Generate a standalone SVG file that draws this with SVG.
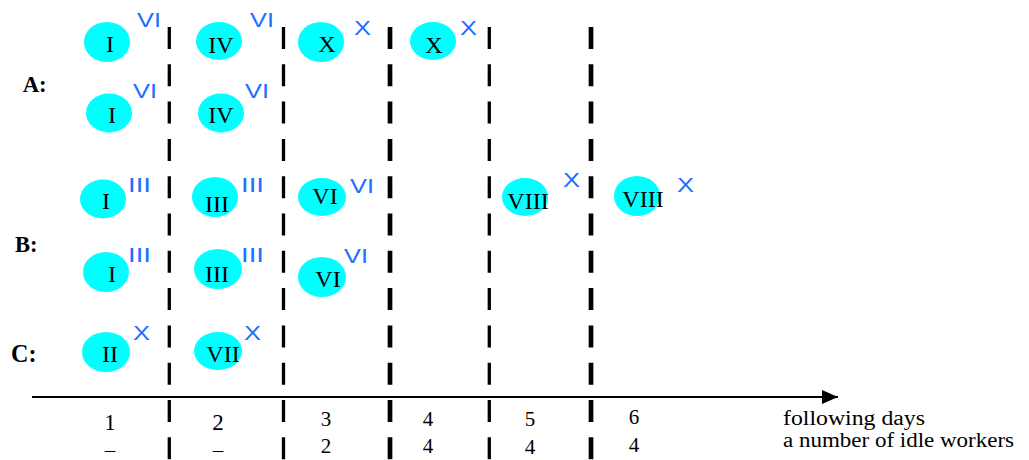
<svg xmlns="http://www.w3.org/2000/svg" width="1029" height="460" viewBox="0 0 1029 460">
<defs>
<style>
.el{fill:#00ffff}
.n{font-family:"Liberation Serif","Times New Roman",serif;font-size:24px;fill:#000;text-anchor:middle}
.b{font-family:"Liberation Sans",Arial,sans-serif;font-size:21px;fill:#1f6fff}
.lab{font-family:"Liberation Serif","Times New Roman",serif;font-size:24px;font-weight:bold;fill:#000}
.d{font-family:"Liberation Serif","Times New Roman",serif;font-size:21px;fill:#000;text-anchor:middle}
.t{font-family:"Liberation Serif","Times New Roman",serif;font-size:20px;fill:#000}
.sep{stroke:#000;stroke-dasharray:22 15.3;fill:none}
</style>
<marker id="arr" markerWidth="16" markerHeight="14" refX="16" refY="7" orient="auto" markerUnits="userSpaceOnUse">
<path d="M0,0 L16,7 L0,14 Z" fill="#000"/>
</marker>
</defs>
<rect width="1029" height="460" fill="#fff"/>

<g id="separators">
<line class="sep" x1="169.3" y1="27" x2="169.3" y2="460" stroke-width="3.3"/>
<line class="sep" x1="283.5" y1="27" x2="283.5" y2="460" stroke-width="3.3"/>
<line class="sep" x1="390" y1="27" x2="390" y2="460" stroke-width="4.7"/>
<line class="sep" x1="489.3" y1="27" x2="489.3" y2="460" stroke-width="3.3"/>
<line class="sep" x1="591" y1="27" x2="591" y2="460" stroke-width="4.7"/>
</g>

<g id="connectors">
<line x1="32" y1="397" x2="838" y2="397" stroke="#000" stroke-width="2" marker-end="url(#arr)"/>
</g>

<g id="row-labels">
<text class="lab" x="22.7" y="92" textLength="24" lengthAdjust="spacingAndGlyphs">A:</text>
<text class="lab" x="15" y="251.7" textLength="22.5" lengthAdjust="spacingAndGlyphs">B:</text>
<text class="lab" x="11" y="362" textLength="25.5" lengthAdjust="spacingAndGlyphs" style="font-size:25px">C:</text>
</g>

<g id="A1-1"><ellipse class="el" cx="107" cy="42" rx="23" ry="20"/><text class="n" x="110" y="52">I</text><text class="b" x="137" y="27" textLength="24" lengthAdjust="spacingAndGlyphs">VI</text></g>
<g id="A1-2"><ellipse class="el" cx="219" cy="41" rx="23" ry="19"/><text class="n" x="221" y="53">IV</text><text class="b" x="250" y="27" textLength="24" lengthAdjust="spacingAndGlyphs">VI</text></g>
<g id="A1-3"><ellipse class="el" cx="321" cy="42" rx="23" ry="20"/><text class="n" x="327" y="52">X</text><text class="b" x="354" y="35" textLength="17" lengthAdjust="spacingAndGlyphs">X</text></g>
<g id="A1-4"><ellipse class="el" cx="433" cy="41" rx="23" ry="19"/><text class="n" x="434" y="53">X</text><text class="b" x="460" y="35" textLength="17" lengthAdjust="spacingAndGlyphs">X</text></g>

<g id="A2-1"><ellipse class="el" cx="109" cy="113" rx="23" ry="19.5"/><text class="n" x="112" y="123">I</text><text class="b" x="133" y="98" textLength="24" lengthAdjust="spacingAndGlyphs">VI</text></g>
<g id="A2-2"><ellipse class="el" cx="221" cy="113" rx="23" ry="19.5"/><text class="n" x="221" y="123">IV</text><text class="b" x="245" y="98" textLength="24" lengthAdjust="spacingAndGlyphs">VI</text></g>

<g id="B1-1"><ellipse class="el" cx="103" cy="199" rx="23" ry="19.5"/><text class="n" x="106" y="209">I</text><text class="b" x="128" y="192" textLength="23" lengthAdjust="spacingAndGlyphs">III</text></g>
<g id="B1-2"><ellipse class="el" cx="215" cy="197" rx="23" ry="20"/><text class="n" x="217" y="212">III</text><text class="b" x="241" y="192" textLength="23" lengthAdjust="spacingAndGlyphs">III</text></g>
<g id="B1-3"><ellipse class="el" cx="322" cy="197" rx="24" ry="19"/><text class="n" x="325" y="204">VI</text><text class="b" x="350" y="193" textLength="24" lengthAdjust="spacingAndGlyphs">VI</text></g>
<g id="B1-5"><ellipse class="el" cx="525" cy="197" rx="23" ry="19"/><text class="n" x="528" y="209">VIII</text><text class="b" x="563" y="187" textLength="17" lengthAdjust="spacingAndGlyphs">X</text></g>
<g id="B1-6"><ellipse class="el" cx="637" cy="196" rx="23" ry="20"/><text class="n" x="643" y="207">VIII</text><text class="b" x="677" y="192" textLength="17" lengthAdjust="spacingAndGlyphs">X</text></g>

<g id="B2-1"><ellipse class="el" cx="106" cy="272" rx="23" ry="20"/><text class="n" x="112" y="282">I</text><text class="b" x="128" y="262" textLength="23" lengthAdjust="spacingAndGlyphs">III</text></g>
<g id="B2-2"><ellipse class="el" cx="218" cy="269" rx="24" ry="20"/><text class="n" x="217" y="282">III</text><text class="b" x="241" y="262" textLength="23" lengthAdjust="spacingAndGlyphs">III</text></g>
<g id="B2-3"><ellipse class="el" cx="322" cy="277" rx="24" ry="20"/><text class="n" x="328" y="287">VI</text><text class="b" x="344" y="263" textLength="24" lengthAdjust="spacingAndGlyphs">VI</text></g>

<g id="C-1"><ellipse class="el" cx="106" cy="352" rx="24" ry="20"/><text class="n" x="110" y="362">II</text><text class="b" x="133" y="340" textLength="17" lengthAdjust="spacingAndGlyphs">X</text></g>
<g id="C-2"><ellipse class="el" cx="218" cy="351" rx="24" ry="19"/><text class="n" x="223" y="362">VII</text><text class="b" x="244" y="340" textLength="17" lengthAdjust="spacingAndGlyphs">X</text></g>

<g id="days">
<text class="d" x="110" y="430" style="font-size:23px">1</text>
<text class="d" x="218" y="430" style="font-size:23px">2</text>
<text class="d" x="326" y="426">3</text>
<text class="d" x="428" y="426">4</text>
<text class="d" x="530" y="426">5</text>
<text class="d" x="634" y="424">6</text>
</g>
<g id="idle">
<text class="d" x="110" y="457">–</text>
<text class="d" x="218" y="457">–</text>
<text class="d" x="326" y="453">2</text>
<text class="d" x="428" y="453">4</text>
<text class="d" x="530" y="454">4</text>
<text class="d" x="634" y="451.5">4</text>
</g>
<g id="axis-labels">
<text class="t" x="783" y="425" textLength="142" lengthAdjust="spacingAndGlyphs">following days</text>
<text class="t" x="783" y="447" textLength="231" lengthAdjust="spacingAndGlyphs">a number of idle workers</text>
</g>
</svg>
